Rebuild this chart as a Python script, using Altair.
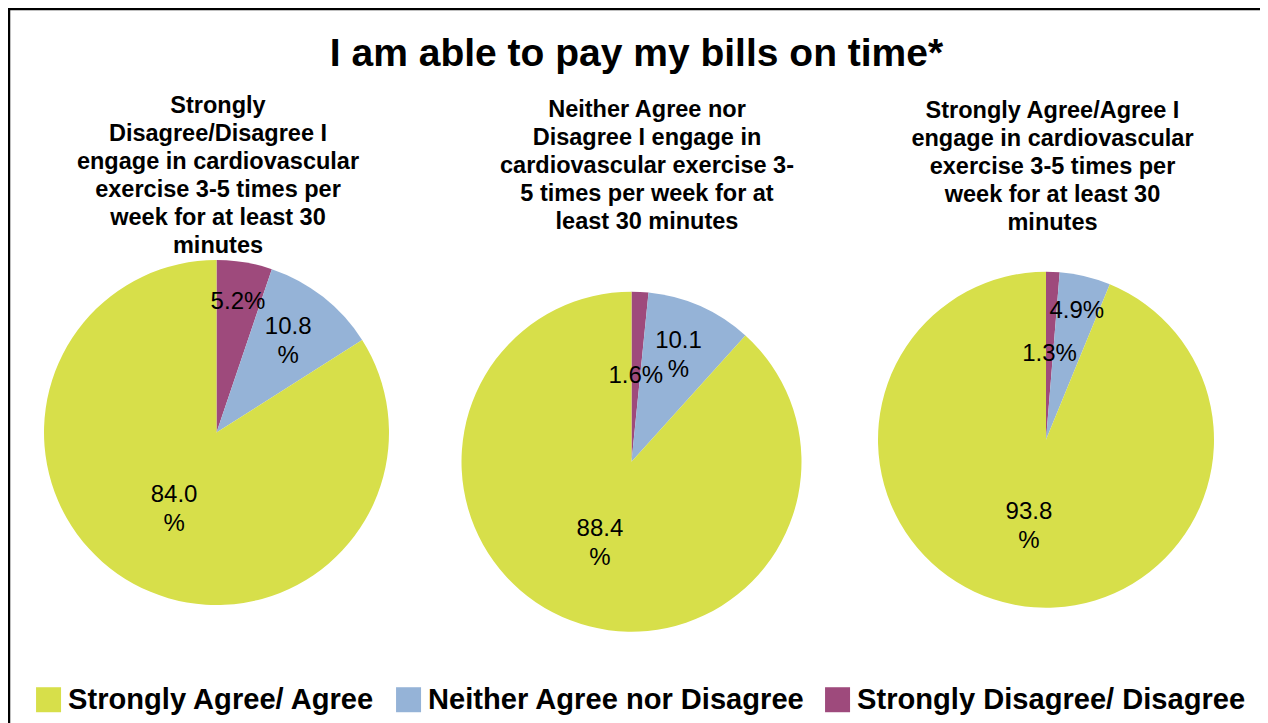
import math
import altair as alt
import pandas as pd

# ---------------- data ----------------
title_text = "I am able to pay my bills on time*"

# slice order clockwise from 12 o'clock
categories = ["Strongly Disagree/ Disagree", "Neither Agree nor Disagree", "Strongly Agree/ Agree"]
legend_order = ["Strongly Agree/ Agree", "Neither Agree nor Disagree", "Strongly Disagree/ Disagree"]
legend_colors = ["#D7DF4A", "#95B3D7", "#9E4A7C"]

pie_keys = ["disagree", "neither", "agree"]
values_disagree = [5.2, 10.8, 84.0]
values_neither = [1.6, 10.1, 88.4]
values_agree = [1.3, 4.9, 93.8]
pie_values = [values_disagree, values_neither, values_agree]

subtitles = [
    ["Strongly", "Disagree/Disagree I", "engage in cardiovascular",
     "exercise 3-5 times per", "week for at least 30", "minutes"],
    ["Neither Agree  nor", "Disagree I engage in", "cardiovascular exercise 3-",
     "5 times per week for at", "least 30 minutes"],
    ["Strongly Agree/Agree I", "engage in cardiovascular", "exercise 3-5 times per",
     "week for at least 30", "minutes"],
]

# ---------------- layout ----------------
W, H = 1252, 715
FONT = "Liberation Sans"
pie_layout = [(208.5, 424.5, 172.5), (623.5, 453.7, 170.0), (1038.0, 431.7, 168.0)]
subtitle_pos = [(210.0, 105.0), (639.0, 109.0), (1044.5, 110.0)]
TWO_PI = 2 * math.pi
LABEL_LH = 29


def fmt(v):
    s = f"{v:.1f}"
    return s + "\n%" if v >= 10 else s + "%"


rows = []
for key, vals in zip(pie_keys, pie_values):
    for j, (cat, v) in enumerate(zip(categories, vals)):
        rows.append({"pie": key, "cat": cat, "value": v, "ord": j,
                     "label": fmt(v), "wrapped": v >= 10})
df = pd.DataFrame(rows)

color_enc = alt.Color(
    "cat:N",
    scale=alt.Scale(domain=legend_order, range=legend_colors),
    legend=alt.Legend(
        title=None,
        orient="none",
        legendX=26,
        legendY=677,
        direction="horizontal",
        symbolType="square",
        symbolSize=625,
        symbolStrokeWidth=0,
        symbolOpacity=1,
        labelFont=FONT,
        labelFontSize=29.1,
        labelFontWeight="bold",
        labelColor="black",
        labelOffset=5,
        labelLimit=600,
        columnPadding=18,
    ),
)

layers = []
for key, (cx, cy, r) in zip(pie_keys, pie_layout):
    base = alt.Chart(df).transform_filter(alt.datum.pie == key)
    arc = base.mark_arc(outerRadius=r).encode(
        theta=alt.Theta("value:Q", stack="normalize"),
        order=alt.Order("ord:Q"),
        color=color_enc,
        x=alt.value(cx),
        y=alt.value(cy),
    )
    layers.append(arc)
    lab = (
        base.transform_window(cum="sum(value)", sort=[alt.SortField("ord")])
        .transform_joinaggregate(total="sum(value)")
        .transform_calculate(
            mid=f"(datum.cum - datum.value / 2) / datum.total * {TWO_PI}",
            lr="datum.value > 50 ? 88 : (datum.value < 2 ? 86 : (datum.value < 10 ? 132 : 116))",
        )
    )
    for wrapped in (False, True):
        txt = (
            lab.transform_filter(alt.datum.wrapped == wrapped)
            .mark_text(
                font=FONT, fontSize=24, lineBreak="\n", lineHeight=LABEL_LH,
                align="center", baseline="middle", color="black",
                dy=-LABEL_LH / 2 if wrapped else 0,
            )
            .encode(
                theta=alt.Theta("mid:Q", scale=None, stack=None),
                radius=alt.Radius("lr:Q", scale=None),
                text="label:N",
                x=alt.value(cx),
                y=alt.value(cy),
            )
        )
        layers.append(txt)

for lines, (sx, sy) in zip(subtitles, subtitle_pos):
    sdf = pd.DataFrame({"t": ["\n".join(lines)]})
    layers.append(
        alt.Chart(sdf).mark_text(
            font=FONT, fontSize=23.5, fontWeight="bold", lineBreak="\n",
            lineHeight=28, align="center", baseline="alphabetic", color="black",
        ).encode(text="t:N", x=alt.value(sx), y=alt.value(sy))
    )

tdf = pd.DataFrame({"t": [title_text]})
layers.append(
    alt.Chart(tdf).mark_text(
        font=FONT, fontSize=39, fontWeight="bold", align="center",
        baseline="alphabetic", color="black",
    ).encode(text="t:N", x=alt.value(628.5), y=alt.value(58))
)

one = pd.DataFrame({"k": [0]})
layers.append(
    alt.Chart(one).mark_rule(color="black", strokeWidth=2.5).encode(
        x=alt.value(1), y=alt.value(0), y2=alt.value(H)
    )
)
layers.append(
    alt.Chart(one).mark_rule(color="black", strokeWidth=2.5).encode(
        x=alt.value(0), x2=alt.value(W), y=alt.value(1)
    )
)

chart = (
    alt.layer(*layers)
    .properties(width=W, height=H, padding=0, autosize=alt.AutoSizeParams(type="none"))
    .configure_view(stroke=None)
    .configure(background="white")
)

chart.save("out.html", embed_options={"renderer": "svg", "actions": False})
